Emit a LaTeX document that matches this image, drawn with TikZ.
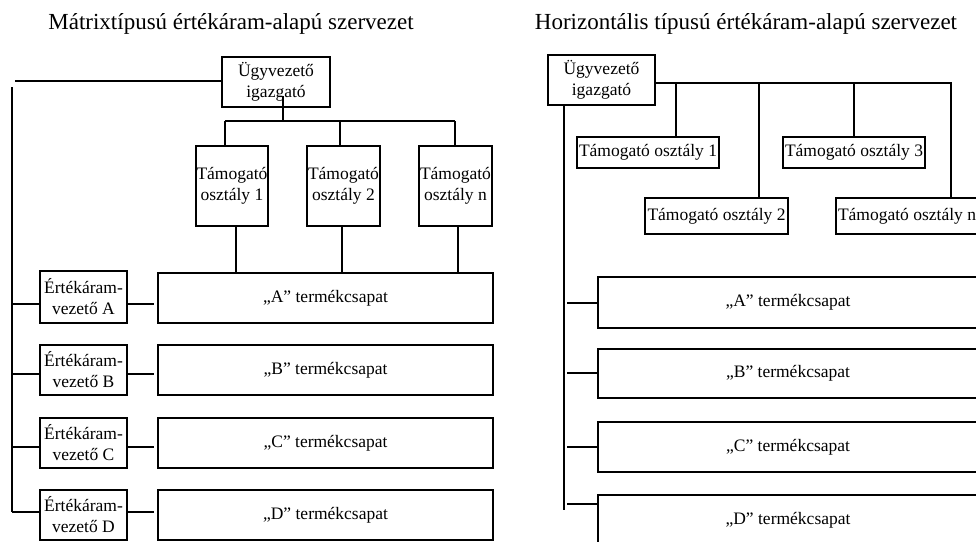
\documentclass[tikz,border=0pt]{standalone}
\usepackage{fontspec}
\setmainfont{Liberation Serif}
\begin{document}
\begin{tikzpicture}[x=1pt,y=-1pt,
  box/.style={draw,rectangle,line width=1.6pt,inner sep=0pt,align=center,font=\fontsize{17.5}{21}\selectfont},
  ttl/.style={font=\fontsize{23}{26}\selectfont,inner sep=0pt},
  ln/.style={line width=1.6pt}]
\useasboundingbox (0,0) rectangle (976,541);
% titles
\node[ttl] (t1) at (231,24) {Mátrixtípusú értékáram-alapú szervezet};
\node[ttl] (t2) at (746,24) {Horizontális típusú értékáram-alapú szervezet};
% ===== left panel =====
\node[box,minimum width=108pt,minimum height=50pt] (ceo) at (276,82) {Ügyvezető\\igazgató};
\node[box,minimum width=72pt,minimum height=80pt] (s1) at (232,186) {Támogató\\osztály 1};
\node[box,minimum width=73pt,minimum height=80pt] (s2) at (343.5,186) {Támogató\\osztály 2};
\node[box,minimum width=73pt,minimum height=80pt] (s3) at (455.5,186) {Támogató\\osztály n};
\node[box,minimum width=335pt,minimum height=50pt] (ta) at (325.5,298) {„A” termékcsapat};
\node[box,minimum width=335pt,minimum height=50pt] (tb) at (325.5,370) {„B” termékcsapat};
\node[box,minimum width=335pt,minimum height=50pt] (tc) at (325.5,443) {„C” termékcsapat};
\node[box,minimum width=335pt,minimum height=50pt] (td) at (325.5,515) {„D” termékcsapat};
\node[box,minimum width=87pt,minimum height=52pt] (va) at (83.5,297) {Értékáram-\\vezető A};
\node[box,minimum width=87pt,minimum height=50pt] (vb) at (83.5,370) {Értékáram-\\vezető B};
\node[box,minimum width=87pt,minimum height=50pt] (vc) at (83.5,443) {Értékáram-\\vezető C};
\node[box,minimum width=87pt,minimum height=50pt] (vd) at (83.5,515) {Értékáram-\\vezető D};
% connectors left
\coordinate (lh) at (15,81);
\coordinate (ltop) at (12,87);
\coordinate (lbot) at (12,512);
\draw[ln] (ceo.west |- lh) -- (lh);
\draw[ln] (ltop) -- (lbot);
\coordinate (bus) at (283,121);
\draw[ln] ([yshift=12pt]ceo.south -| bus) -- (bus);
\draw[ln] (225,121) -- (455,121);
\draw[ln] (225,121) -- (225,146);
\draw[ln] (340,121) -- (340,146);
\draw[ln] (455,121) -- (455,146);
\draw[ln] (s1.south -| 236,0) -- (ta.north -| 236,0);
\draw[ln] (s2.south -| 342,0) -- (ta.north -| 342,0);
\draw[ln] (s3.south -| 458,0) -- (ta.north -| 458,0);
\foreach \v/\t/\yy in {va/ta/304, vb/tb/374, vc/tc/447, vd/td/512}{
  \draw[ln] (12,\yy) -- (\v.west |- 0,\yy);
  \draw[ln] (\v.east |- 0,\yy) -- ([xshift=-3pt]\t.west |- 0,\yy);
}
% ===== right panel =====
\node[box,minimum width=107pt,minimum height=50pt] (rceo) at (601.5,80) {Ügyvezető\\igazgató};
\node[box,minimum width=142pt,minimum height=31pt] (r1) at (648,152.5) {Támogató osztály 1};
\node[box,minimum width=142pt,minimum height=31pt] (r3) at (854,152.5) {Támogató osztály 3};
\node[box,minimum width=143pt,minimum height=36pt] (r2) at (716.5,216) {Támogató osztály 2};
\node[box,minimum width=142pt,minimum height=36pt] (rn) at (907,216) {Támogató osztály n};
\node[box,minimum width=380pt,minimum height=51pt] (rta) at (788,302.5) {„A” termékcsapat};
\node[box,minimum width=380pt,minimum height=49pt] (rtb) at (788,373.5) {„B” termékcsapat};
\node[box,minimum width=380pt,minimum height=50pt] (rtc) at (788,447) {„C” termékcsapat};
\node[box,minimum width=380pt,minimum height=50pt] (rtd) at (788,520) {„D” termékcsapat};
\coordinate (rbus) at (952,83);
\draw[ln] (rceo.east |- rbus) -- (rbus);
\draw[ln] (676,83) -- (r1.north -| 676,0);
\draw[ln] (759,83) -- (r2.north -| 759,0);
\draw[ln] (854,83) -- (r3.north -| 854,0);
\draw[ln] (951,83) -- (rn.north -| 951,0);
\draw[ln] (rceo.south -| 564,0) -- (564,510);
\foreach \t/\yy in {rta/303, rtb/373, rtc/447, rtd/504}{
  \draw[ln] (567,\yy) -- (\t.west |- 0,\yy);
}
\end{tikzpicture}
\end{document}
